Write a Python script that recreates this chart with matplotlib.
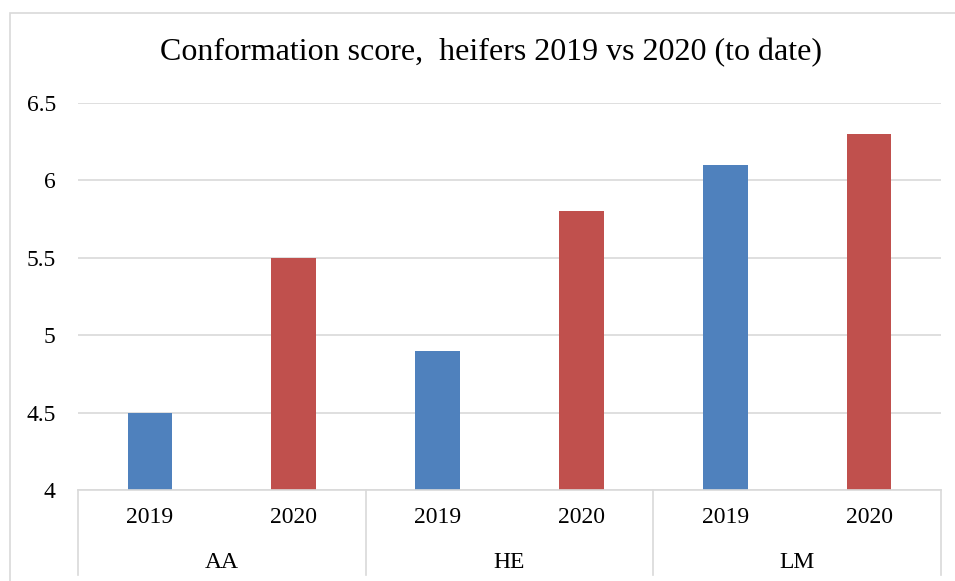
import matplotlib.pyplot as plt
import matplotlib
from matplotlib.patches import Rectangle
from matplotlib.transforms import blended_transform_factory

matplotlib.rcParams['font.family'] = ['Liberation Serif', 'DejaVu Serif']

groups = ["AA", "HE", "LM"]
years = ["2019", "2020"]
values = {
    "AA": [4.5, 5.5],
    "HE": [4.9, 5.8],
    "LM": [6.1, 6.3],
}
colors = ["#4F81BD", "#C0504D"]

fig = plt.figure(figsize=(9.55, 5.81), dpi=100)
W, H = 955, 581

# outer chart border (cropped on the right and bottom in the reference)
fig.patches.append(Rectangle((10 / W, -0.1), 1.0, 1 - 13 / H + 0.1,
                             transform=fig.transFigure, fill=False,
                             edgecolor="#D9D9D9", linewidth=1.2))

ax = fig.add_axes([78 / W, 1 - 490 / H, (941 - 78) / W, (490 - 103) / H])

x = 0
xticks, xlabels = [], []
for g in groups:
    for i, yr in enumerate(years):
        ax.bar(x, values[g][i] - 4, bottom=4, width=0.31, color=colors[i])
        xticks.append(x)
        xlabels.append(yr)
        x += 1

ax.set_xlim(-0.5, len(xticks) - 0.5)
ax.set_ylim(4, 6.5)
ax.set_yticks([4, 4.5, 5, 5.5, 6, 6.5])
ax.set_yticklabels(["4", "4.5", "5", "5.5", "6", "6.5"])
ax.yaxis.grid(True, color="#D9D9D9", linewidth=1.2)
ax.set_axisbelow(True)
for s in ["top", "right", "left"]:
    ax.spines[s].set_visible(False)
ax.spines["bottom"].set_color("#D9D9D9")
ax.spines["bottom"].set_linewidth(1.2)
ax.tick_params(axis="y", length=0, pad=16, labelsize=17)
ax.tick_params(axis="x", length=0, pad=12, labelsize=17)
ax.set_xticks(xticks)
ax.set_xticklabels(xlabels)

tr = blended_transform_factory(ax.transData, ax.transAxes)
axh = 490 - 103
depth = (575 - 490) / axh
for k in range(len(groups) + 1):
    xs = -0.5 + 2 * k
    ax.plot([xs, xs], [0, -depth], transform=tr, color="#D9D9D9",
            linewidth=1.2, clip_on=False)
for k, g in enumerate(groups):
    ax.text(2 * k + 0.5, -(563 - 490) / axh, g, transform=tr,
            ha="center", va="center", fontsize=17)

fig.text(491 / W, 1 - 53 / H,
         "Conformation score,  heifers 2019 vs 2020 (to date)",
         ha="center", va="center", fontsize=23)

plt.savefig("out.png", dpi=100)
